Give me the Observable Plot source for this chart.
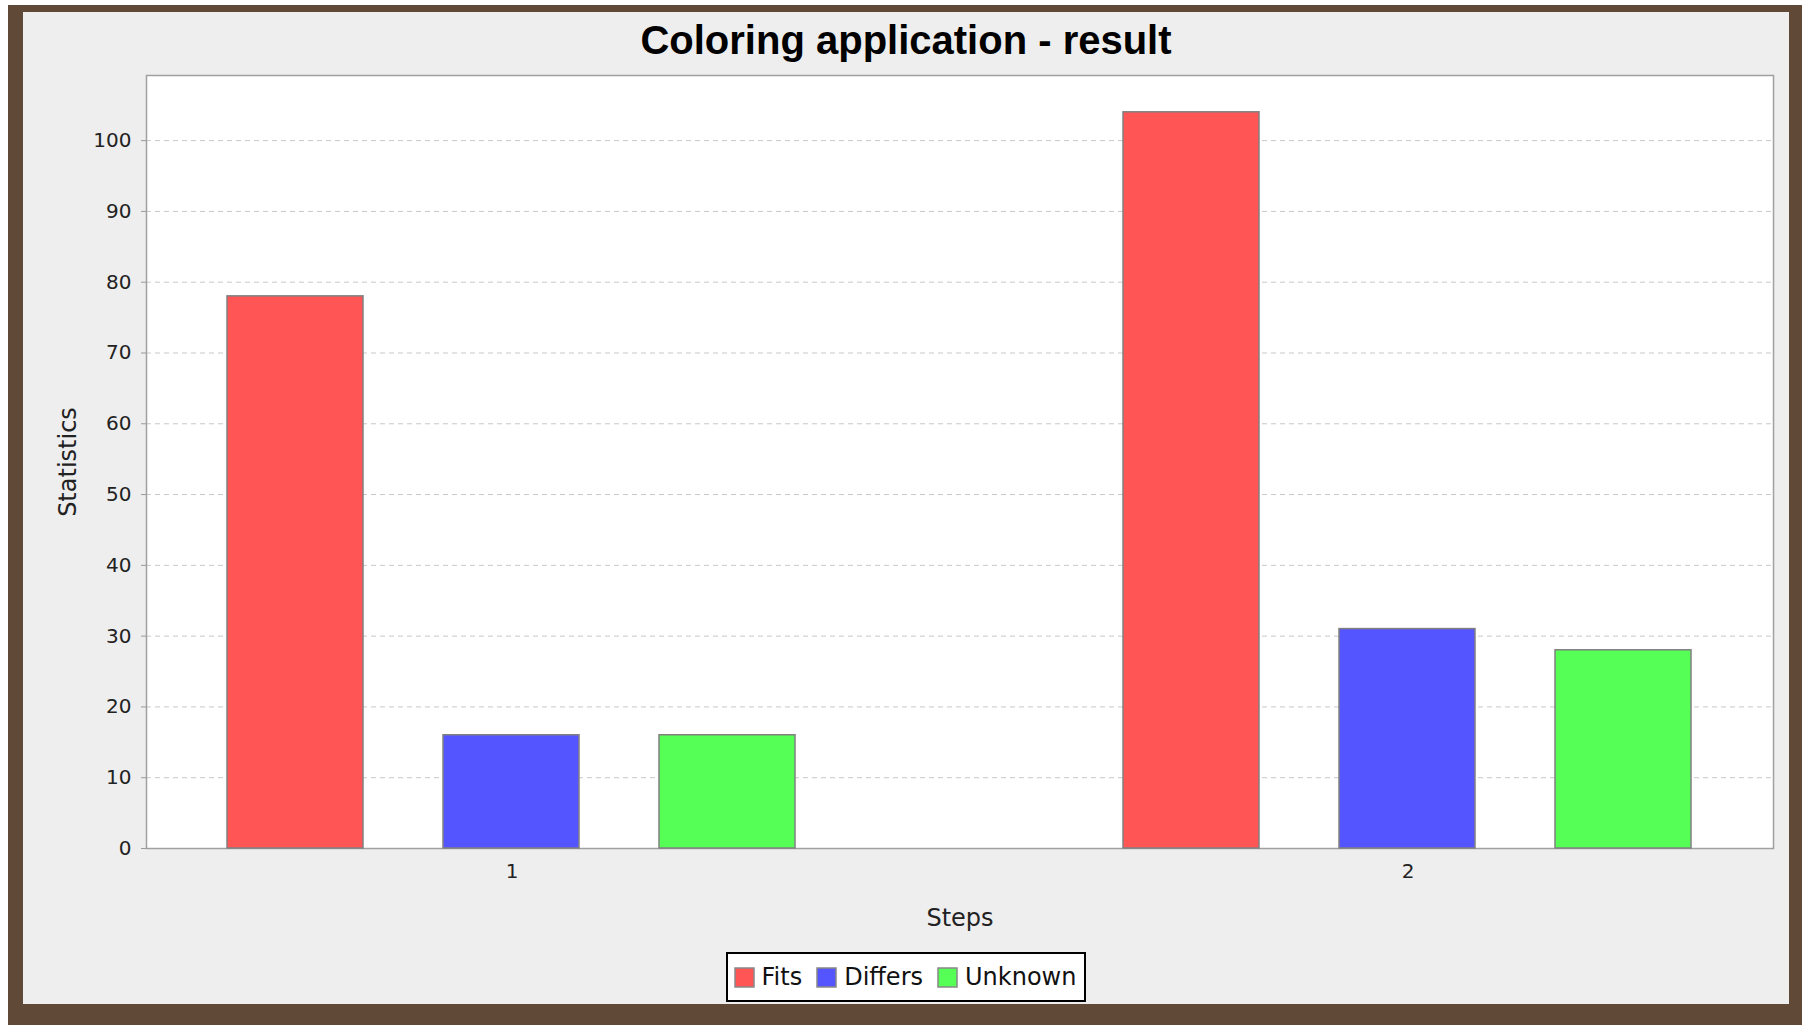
<!DOCTYPE html>
<html>
<head>
<meta charset="utf-8">
<script src="https://cdn.jsdelivr.net/npm/d3@7"></script>
<script src="https://cdn.jsdelivr.net/npm/@observablehq/plot@0.6"></script>
<style>
html, body { margin: 0; padding: 0; background: #ffffff; width: 1802px; height: 1025px; overflow: hidden; }
#outer { position: absolute; left: 8px; top: 5px; width: 1794px; height: 1020px; background: #604a37; }
#panel { position: absolute; left: 23px; top: 12px; width: 1766px; height: 992px; background: #eeeeee; }
#title { position: absolute; left: 23px; top: 21px; width: 1766px; text-align: center;
  font: bold 40px "Liberation Sans", Arial, sans-serif; line-height: 39px; color: #000; }
#chart { position: absolute; left: 23px; top: 62px; width: 1766px; height: 880px; }
#chart svg { position: absolute; left: 0; top: 0; }
g[aria-label="y-axis label"] text, g[aria-label="fx-axis label"] text { font-size: 24px; }
#legendWrap { position: absolute; left: 23px; top: 952px; width: 1766px; text-align: center; }
#legendBox { display: inline-flex; align-items: center; box-sizing: border-box; height: 50px;
  padding: 0 8px 0 7px; border: 2px solid #000; background: #fff; }
.lg-swatches { font-family: "DejaVu Sans", sans-serif !important; font-size: 24px !important;
  margin: 0 !important; min-height: 0 !important; color: #111; }
.lg-swatch { margin-right: 15px !important; }
.lg-swatch:last-child { margin-right: 0 !important; }
.lg-swatch > svg { margin-right: 8px !important; }
.lg-swatch rect { stroke: #888; stroke-width: 1.5px; }
</style>
</head>
<body>
<div id="outer"></div>
<div id="panel"></div>
<div id="title">Coloring application - result</div>
<div id="chart"></div>
<div id="legendWrap"><div id="legendBox"></div></div>
<script>
const steps = [1, 2];
const series = ["Fits", "Differs", "Unknown"];
const fits = [78, 104];
const differs = [16, 31];
const unknown = [16, 28];
const yTicks = [0, 10, 20, 30, 40, 50, 60, 70, 80, 90, 100];
const colors = ["#ff5555", "#5555ff", "#55ff55"];

const data = steps.flatMap((s, i) => [
  {step: s, series: "Fits", value: fits[i]},
  {step: s, series: "Differs", value: differs[i]},
  {step: s, series: "Unknown", value: unknown[i]}
]);
const yMax = d3.max(data, d => d.value) * 1.05;

const common = {
  width: 1766, height: 880,
  marginLeft: 123, marginRight: 16, marginTop: 13, marginBottom: 94,
  style: {background: "transparent", fontFamily: "DejaVu Sans", fontSize: "20px", color: "#222"}
};

const back = Plot.plot({
  ...common,
  y: {domain: [0, yMax]},
  marks: [
    Plot.frame({fill: "white", stroke: "none"}),
    Plot.gridY(yTicks.filter(v => v > 0), {stroke: "#c8c8c8", strokeOpacity: 1, strokeWidth: 1, strokeDasharray: "5,4"}),
    Plot.frame({stroke: "#a0a0a0", strokeWidth: 1.5}),
    Plot.axisY(yTicks, {tickSize: 5, tickPadding: 10, stroke: "#999", fill: "#222",
      label: "Statistics", labelAnchor: "center", labelArrow: "none", labelOffset: 88})
  ]
});

const front = Plot.plot({
  ...common,
  y: {domain: [0, yMax], axis: null},
  fx: {domain: steps, paddingInner: 0.365, paddingOuter: 0.09},
  x: {domain: series, paddingInner: 0.369, paddingOuter: 0, axis: null},
  color: {domain: series, range: colors},
  marks: [
    Plot.barY(data, {fx: "step", x: "series", y: "value", fill: "series", stroke: "#808080", strokeWidth: 1.5}),
    Plot.axisFx({anchor: "bottom", tickSize: 0, tickPadding: 15, fill: "#222",
      label: "Steps", labelAnchor: "center", labelArrow: "none", labelOffset: 77})
  ]
});

document.getElementById("chart").append(back, front);
document.getElementById("legendBox").append(front.legend("color", {swatchSize: 19, className: "lg"}));
</script>
</body>
</html>
